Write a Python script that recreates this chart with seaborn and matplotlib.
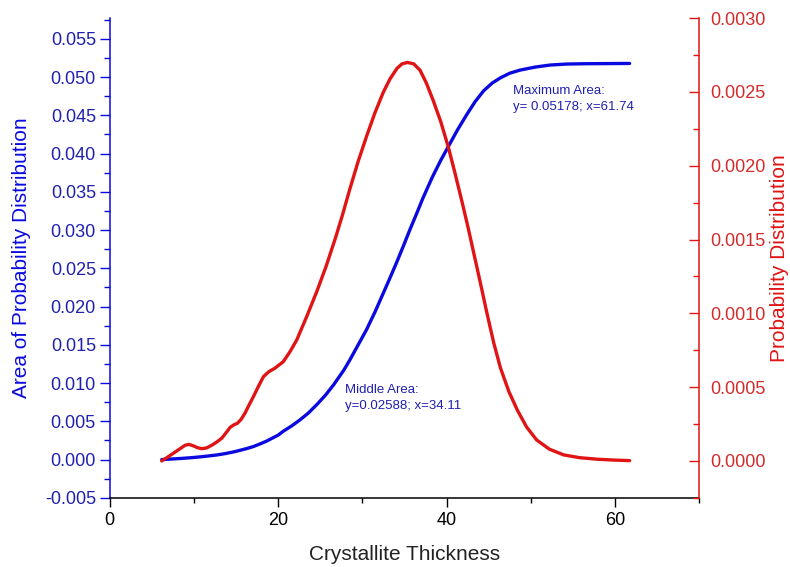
import numpy as np
import pandas as pd
import matplotlib
matplotlib.use("Agg")
import matplotlib.pyplot as plt
from matplotlib.ticker import MultipleLocator, FormatStrFormatter
import seaborn as sns

# Cumulative area of the probability distribution (left axis)
area_x = [6.17, 7.3, 8.5, 9.6, 10.7, 11.7, 12.7, 13.7, 14.7, 15.5, 16.3, 17.1,
          17.85, 18.6, 19.3, 20.0, 20.6, 21.6, 22.6, 23.6, 24.6, 25.6, 26.6,
          27.8, 28.5, 29.2, 29.9, 30.5, 31.5, 32.5, 33.3, 34.11, 34.9, 35.7,
          36.5, 37.2, 38.3, 39.3, 40.2, 41.3, 42.4, 43.4, 44.4, 45.4, 46.4,
          47.5, 48.7, 50.5, 52.3, 54.3, 56.3, 59.0, 61.74]
area_y = [0.0, 0.00007, 0.00015, 0.00024, 0.00035, 0.00047, 0.0006, 0.00078,
          0.0010, 0.00122, 0.00145, 0.00172, 0.00205, 0.0024, 0.0028, 0.0032,
          0.0037, 0.0044, 0.0052, 0.0061, 0.0072, 0.0084, 0.0098, 0.0117,
          0.0130, 0.0144, 0.0158, 0.0170, 0.0193, 0.0218, 0.0238, 0.02588,
          0.0280, 0.0302, 0.0323, 0.0342, 0.0369, 0.0391, 0.0409, 0.0431,
          0.0451, 0.0468, 0.0482, 0.0492, 0.0499, 0.0505, 0.0509, 0.0513,
          0.05157, 0.0517, 0.05174, 0.05176, 0.05178]

# Probability distribution (right axis)
prob_x = [6.17, 6.85, 7.55, 8.94, 9.4, 9.93, 10.4, 10.9, 11.5, 12.1, 12.7,
          13.3, 13.8, 14.3, 14.75, 15.15, 15.6, 16.05, 16.55, 17.05, 17.65,
          18.25, 18.9, 19.6, 20.6, 21.4, 22.2, 23.4, 24.6, 25.7, 26.8, 27.6,
          28.5, 29.5, 30.5, 31.5, 32.5, 33.3, 34.1, 34.7, 35.35, 36.1, 36.85,
          37.6, 38.4, 39.3, 40.2, 41.0, 41.9, 42.6, 43.3, 44.0, 44.8, 45.6,
          46.4, 47.4, 48.4, 49.5, 50.7, 52.2, 53.9, 55.8, 57.9, 59.8, 61.74]
prob_y = [0.0, 0.000025, 0.000052, 0.000106, 0.000112, 0.000102, 0.00009,
          0.000083, 0.000088, 0.000106, 0.000128, 0.000154, 0.00019, 0.000228,
          0.000245, 0.000255, 0.000282, 0.000323, 0.00038, 0.000435, 0.000505,
          0.000571, 0.000605, 0.000628, 0.000672, 0.00074, 0.000819, 0.00098,
          0.00115, 0.00132, 0.00151, 0.00166, 0.00184, 0.00203, 0.0022,
          0.00236, 0.0025, 0.00259, 0.002659, 0.00269, 0.0027, 0.00269,
          0.002647, 0.00256, 0.002444, 0.0023, 0.002128, 0.00195, 0.00174,
          0.00157, 0.00139, 0.00121, 0.00100, 0.00080, 0.00063, 0.00047,
          0.000345, 0.00023, 0.000142, 0.00008, 0.000041, 0.000022, 0.0000115,
          0.000006, 0.000002]

middle_label = "Middle Area:\ny=0.02588; x=34.11"
max_label = "Maximum Area:\ny= 0.05178; x=61.74"

area_df = pd.DataFrame({"thickness": area_x, "area": area_y})
prob_df = pd.DataFrame({"thickness": prob_x, "prob": prob_y})

sns.set_style("white")
plt.rcParams["font.family"] = ["Liberation Sans", "DejaVu Sans"]
plt.rcParams["axes.unicode_minus"] = False
plt.rcParams["lines.solid_capstyle"] = "round"
plt.rcParams["lines.solid_joinstyle"] = "round"

BLUE_LINE = "#0a0ae0"
BLUE_TEXT = "#2020b0"
RED_LINE = "#e01414"
RED_TEXT = "#d42a2a"

fig = plt.figure(figsize=(7.9, 5.67), dpi=100)
ax = fig.add_subplot(111)
fig.subplots_adjust(left=0.139, right=0.885, top=0.968, bottom=0.122)
ax2 = ax.twinx()

sns.lineplot(data=area_df, x="thickness", y="area", ax=ax, color=BLUE_LINE,
             linewidth=2.4)
sns.lineplot(data=prob_df, x="thickness", y="prob", ax=ax2, color=RED_LINE,
             linewidth=2.4)

ax.set_xlim(0, 70)
ax.set_ylim(-0.005, 0.0577)
ax2.set_ylim(-0.00025, 0.0030)

ax.xaxis.set_major_locator(MultipleLocator(20))
ax.xaxis.set_minor_locator(MultipleLocator(10))
ax.yaxis.set_major_locator(MultipleLocator(0.005))
ax.yaxis.set_minor_locator(MultipleLocator(0.0025))
ax.yaxis.set_major_formatter(FormatStrFormatter("%.3f"))
ax2.yaxis.set_major_locator(MultipleLocator(0.0005))
ax2.yaxis.set_minor_locator(MultipleLocator(0.00025))
ax2.yaxis.set_major_formatter(FormatStrFormatter("%.4f"))

# spines
for a in (ax, ax2):
    a.spines["top"].set_visible(False)
    for s in a.spines.values():
        s.set_linewidth(1.1)
ax.spines["left"].set_color(BLUE_LINE)
ax.spines["bottom"].set_color("black")
ax.spines["right"].set_visible(False)
ax2.spines["left"].set_visible(False)
ax2.spines["bottom"].set_visible(False)
ax2.spines["right"].set_color(RED_LINE)

# ticks
ax.tick_params(axis="x", which="major", direction="out", length=6.5, width=1,
               colors="black", labelsize=13, pad=4, bottom=True)
ax.tick_params(axis="x", which="minor", direction="out", length=3.5, width=1,
               colors="black", bottom=True)
ax.tick_params(axis="y", which="major", direction="out", length=7, width=1,
               color=BLUE_LINE, labelcolor=BLUE_TEXT, labelsize=13, pad=3,
               left=True)
ax.tick_params(axis="y", which="minor", direction="out", length=4, width=1,
               color=BLUE_LINE, left=True)
ax2.tick_params(axis="y", which="major", direction="in", length=7, width=1,
                color=RED_LINE, labelcolor=RED_TEXT, labelsize=13, pad=8,
                right=True)
ax2.tick_params(axis="y", which="minor", direction="in", length=4, width=1,
                color=RED_LINE, right=True)

ax.set_xlabel("Crystallite Thickness", fontsize=15, color="#222222",
              labelpad=11)
ax.set_ylabel("Area of Probability Distribution", fontsize=15,
              color=BLUE_LINE, labelpad=10)
ax2.set_ylabel("Probability Distribution", fontsize=15, color=RED_LINE,
               labelpad=3)

ax.text(27.9, 0.0081, middle_label, fontsize=9.5, color=BLUE_TEXT,
        va="center", ha="left", linespacing=1.45)
ax.text(47.9, 0.0471, max_label, fontsize=9.5, color=BLUE_TEXT,
        va="center", ha="left", linespacing=1.45)

fig.savefig("out.png", dpi=100)
